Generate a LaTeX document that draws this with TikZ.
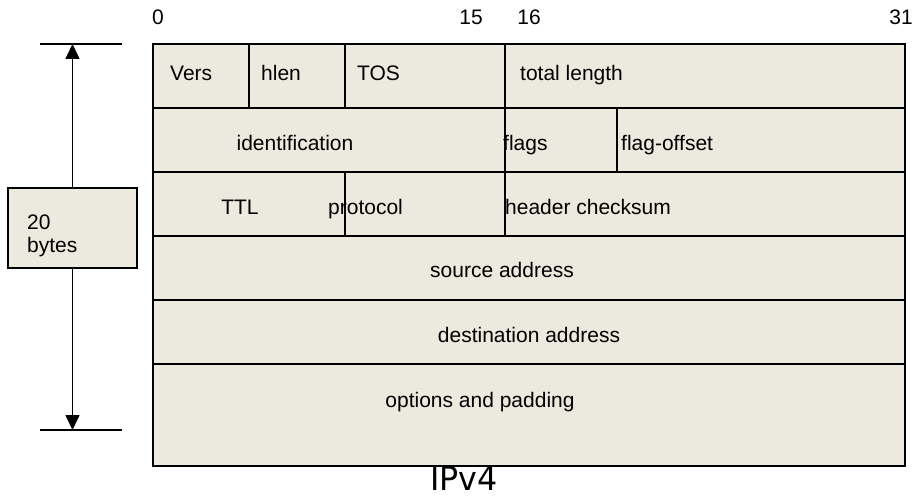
\documentclass[tikz,border=0pt]{standalone}
\usepackage{fontspec}
\setmainfont{Liberation Sans}
\newfontfamily\titlefont{DejaVu Sans}
\usetikzlibrary{arrows.meta}
\definecolor{cellfill}{RGB}{236,233,222}
\tikzset{
  cell/.style={fill=cellfill, draw=black, line width=1.3pt},
  lbl/.style={inner sep=0pt, anchor=base, font=\fontsize{21}{24}\selectfont},
  lblw/.style={lbl, anchor=base west},
  tick/.style={line width=1.3pt},
  dimarrow/.style={line width=1.6pt, -{Triangle[length=15pt,width=14pt]}},
}
\begin{document}
\begin{tikzpicture}[x=1pt,y=-1pt]
\useasboundingbox (0,0) rectangle (916,497);
% cells
\draw[cell] (153,44) rectangle (905,466);
\foreach \yy in {108,172,236,300,364} \draw[line width=1.3pt] (153,\yy) -- (905,\yy);
\draw[line width=1.3pt] (249,44) -- (249,108);
\draw[line width=1.3pt] (345,44) -- (345,108);
\draw[line width=1.3pt] (505,44) -- (505,236);
\draw[line width=1.3pt] (617,108) -- (617,172);
\draw[line width=1.3pt] (345,172) -- (345,236);
\draw[line width=2pt] (153,44) rectangle (905,466);
% bit numbers
\node[lbl] (b0) at (158,25) {0};
\node[lbl] (b15) at (471,25) {15};
\node[lbl] (b16) at (529,25) {16};
\node[lbl] (b31) at (901,25) {31};
% field labels
\node[lblw] (vers) at (170,81) {Vers};
\node[lblw] (hlen) at (261,81) {hlen};
\node[lblw] (tos) at (357,81) {TOS};
\node[lblw] (tlen) at (520,81) {total length};
\node[lbl] (ident) at (295,151) {identification};
\node[lblw] (flags) at (503,151) {flags};
\node[lblw] (foff) at (621,151) {flag-offset};
\node[lbl] (ttl) at (240,215) {TTL};
\node[lblw] (proto) at (328,215) {protocol};
\node[lblw] (hcs) at (505,215) {header checksum};
\node[lbl] (src) at (502,278) {source address};
\node[lbl] (dst) at (529,342) {destination address};
\node[lbl] (opt) at (480,407) {options and padding};
% title
\node[inner sep=0pt, font=\titlefont\fontsize{33}{36}\selectfont, xscale=0.96, transform shape] (title) at (464,478) {IPv4};
% size indicator
\node[draw=black, fill=cellfill, line width=1.3pt, minimum width=129pt, minimum height=80pt, inner sep=0pt] (bytes) at (72.5,228) {};
\node[lblw] (bytes20) at (27,230) {20};
\node[lblw] (bytesword) at (27,253) {bytes};
\coordinate (topend) at (72.5,44);
\coordinate (botend) at (72.5,430);
\coordinate (tl) at (40,44);
\coordinate (tr) at (122,44);
\coordinate (bl) at (40,430);
\coordinate (br) at (122,430);
\draw[tick] (tl) -- (tr);
\draw[tick] (bl) -- (br);
\draw[dimarrow] (bytes.north) -- (topend);
\draw[dimarrow] (bytes.south) -- (botend);
\end{tikzpicture}
\end{document}
